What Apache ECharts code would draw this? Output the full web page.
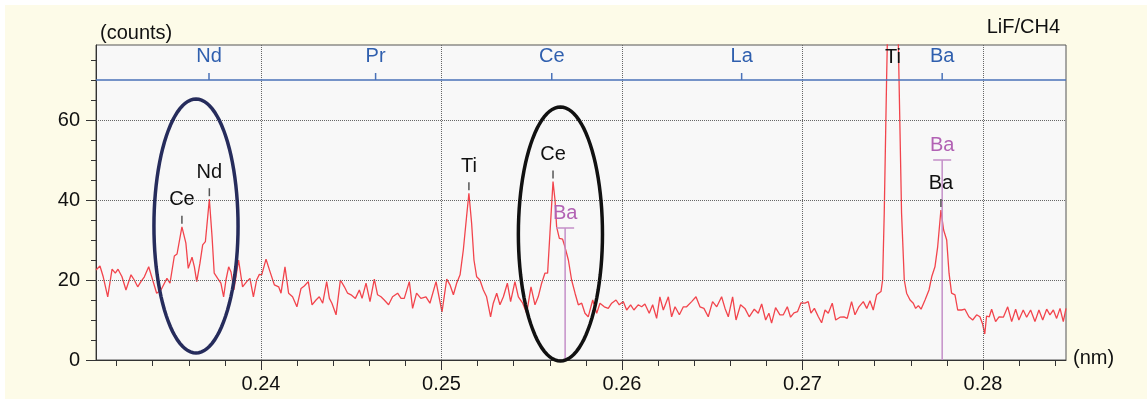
<!DOCTYPE html>
<html>
<head>
<meta charset="utf-8">
<title>LiF/CH4 spectrum</title>
<script src="https://cdn.jsdelivr.net/npm/echarts@6/dist/echarts.min.js"></script>
<style>
  html, body { margin: 0; padding: 0; background: #ffffff; }
  #chart { width: 1147px; height: 399px; }
</style>
</head>
<body>
<div id="chart"></div>
<script>
// wavelength (nm) and counts
var waveNm = [
  0.23086,0.23108,0.23126,0.23151,0.23175,0.23193,0.23208,0.23230,0.23252,0.23280,
  0.23298,0.23317,0.23335,0.23354,0.23378,0.23400,0.23422,0.23446,0.23465,0.23479,
  0.23496,0.23520,0.23535,0.23562,0.23584,0.23597,0.23618,0.23631,0.23644,0.23662,
  0.23677,0.23692,0.23714,0.23729,0.23741,0.23760,0.23778,0.23793,0.23806,0.23821,
  0.23834,0.23850,0.23876,0.23898,0.23921,0.23939,0.23958,0.23976,0.23991,0.24004,
  0.24028,0.24050,0.24074,0.24098,0.24111,0.24133,0.24153,0.24175,0.24199,0.24222,
  0.24240,0.24262,0.24283,0.24305,0.24323,0.24342,0.24364,0.24379,0.24393,0.24416,
  0.24440,0.24462,0.24480,0.24499,0.24523,0.24545,0.24560,0.24582,0.24604,0.24628,
  0.24646,0.24665,0.24683,0.24707,0.24729,0.24757,0.24776,0.24794,0.24822,0.24840,
  0.24862,0.24886,0.24914,
  0.24936,0.24970,0.24988,0.25003,0.25029,0.25047,0.25066,0.25084,0.25103,0.25121,
  0.25139,0.25152,0.25167,0.25180,0.25195,0.25213,0.25232,0.25250,0.25272,0.25287,
  0.25306,0.25324,0.25343,0.25365,0.25383,0.25407,0.25426,0.25450,0.25472,0.25496,
  0.25518,0.25536,0.25555,0.25573,0.25588,0.25601,0.25618,0.25629,0.25638,0.25653,
  0.25671,0.25684,0.25703,0.25721,0.25740,0.25758,0.25777,0.25795,0.25813,0.25838,
  0.25860,0.25878,0.25902,0.25924,0.25943,0.25967,0.25985,0.26007,0.26026,0.26048,
  0.26066,0.26090,0.26109,0.26127,0.26151,0.26170,0.26192,0.26210,0.26229,0.26257,
  0.26275,0.26294,0.26318,0.26340,0.26358,0.26386,0.26410,0.26432,0.26454,0.26478,
  0.26502,0.26525,0.26552,0.26571,0.26589,0.26613,0.26632,0.26657,0.26681,0.26705,
  0.26733,0.26755,0.26774,0.26796,0.26814,0.26829,0.26851,0.26875,0.26894,0.26916,
  0.26934,0.26953,0.26973,0.26992,0.27014,0.27032,0.27047,0.27066,0.27088,0.27106,
  0.27125,0.27143,0.27165,0.27184,0.27208,0.27230,0.27248,0.27272,0.27291,0.27313,
  0.27337,0.27356,0.27374,0.27392,0.27411,0.27435,0.27444,0.27453,0.27466,0.27501,
  0.27535,0.27549,0.27564,0.27577,0.27596,0.27614,0.27627,0.27642,0.27657,0.27679,
  0.27701,0.27716,0.27734,0.27749,0.27767,0.27782,0.27799,0.27812,0.27826,0.27845,
  0.27860,0.27882,0.27900,0.27922,0.27943,0.27965,0.27983,0.27998,0.28010,0.28020,
  0.28035,0.28048,0.28070,0.28089,0.28113,0.28137,0.28159,0.28181,0.28199,0.28223,
  0.28242,0.28264,0.28288,0.28310,0.28331,0.28353,0.28371,0.28390,0.28408,0.28427,
  0.28445,0.28460
];
var counts = [
  22.5,23.5,20.8,15.8,22.7,21.7,22.7,20.8,17.5,21.3,
  20,18.3,19.6,20.8,23.3,20,16.7,17.5,19.2,20.4,
  19.2,26,26.5,33.3,29.2,22.9,25.7,23.3,19.6,24.2,
  28.8,29.6,40.2,30.8,21.7,20.4,19.2,15.8,20,23.3,
  22,17.5,25,18.3,19.6,20.4,15.8,20,21.4,21.3,
  25.2,22.1,18.8,18.3,16.7,23.3,16.7,15.8,13.3,17.9,
  18.5,19.6,13.8,15,15.8,14.2,19.6,15.4,14.2,11.3,
  20,18.3,16.7,16.3,15.4,17.5,15.4,19.2,14.6,20.2,
  16.3,15.8,15,13.8,15.8,16.7,15.4,15.4,19.6,12.9,
  16.7,15.4,15.8,
  14.2,19.6,15.4,12,20.2,18.8,16.3,19.2,21.3,27.5,
  35.8,41.7,34.2,25,20.8,20,17.5,15.8,10.8,14.2,
  16.7,13.8,15.8,19.2,14.6,19.6,15.8,14.2,11.7,18.3,
  13.8,15.8,19.2,21.7,21.7,31.7,44.6,40,33.3,30.4,
  30.2,28.3,25,20,16.7,13.8,14.2,11.7,10.8,15,
  11.7,14.2,13.3,12.9,14.2,15,13.8,14.6,12.5,13.8,
  12.5,13.8,13.3,14,11.7,13.8,10.4,15.8,12.5,15.8,
  10.8,13.3,11.3,13.3,13.3,14.6,15.8,13.3,12.9,10.8,
  14.6,13.3,15.8,12.9,10.8,15.8,10,13.8,12.9,10.8,
  12.7,11.7,14,10,11.7,9.2,13.1,11.3,11.3,13.3,
  10.7,11.8,12.1,14.3,14.2,14.6,11.7,12.9,10.8,9.3,
  12.5,11.7,14.2,10,10.7,10.8,10.4,14.6,11.3,13.3,
  14.6,12.9,14.8,12.5,16.3,17.1,20,36.7,70,150,
  70,36.7,20,16.7,15,14.2,12.9,13.6,12.7,15,
  17.5,20.8,23.3,28.3,37.5,32.5,30,21.7,16.7,16.3,
  12.5,12.5,12.7,10.8,10,11.3,10.8,9,6.5,11,
  10.8,12.7,9.6,10.8,10.7,13.3,9.6,12.7,10,12.5,
  10.7,12.5,9.6,12.5,10,12.7,11.3,12.5,10.4,12.9,
  9.6,12.9
];

// axis ticks
var xMajorTicks = [0.24, 0.25, 0.26, 0.27, 0.28];
var xMinorTicks = [0.232,0.234,0.236,0.238,0.242,0.244,0.246,0.248,0.252,0.254,0.256,0.258,
                   0.262,0.264,0.266,0.268,0.272,0.274,0.276,0.278,0.282,0.284];
var yMajorTicks = [0, 20, 40, 60];
var yMinorTicks = [5, 10, 15, 25, 30, 35, 45, 50, 55, 65, 70, 75];

// element lines along the top strip
var elemNames = ['Nd', 'Pr', 'Ce', 'La', 'Ba'];
var elemNm = [0.23712, 0.24635, 0.25611, 0.26663, 0.27774];
var elemLevel = 70;

// identified peaks
var peakNames = ['Ce', 'Nd', 'Ti', 'Ce', 'Ti', 'Ba'];
var peakNm = [0.23562, 0.23714, 0.25152, 0.25618, 0.27501, 0.27767];
var peakCounts = [33.3, 40.2, 41.7, 44.6, 150, 37.5];

// Ba reference markers (magenta)
var baNm = [0.25685, 0.27774];
var baHeight = [33, 50];

// hand-drawn ellipses: centre nm, centre counts, half width nm, half height counts
var ellipseCx = [0.23640, 0.25659];
var ellipseCy = [33.5, 31.5];
var ellipseRx = [0.00233, 0.00233];
var ellipseRy = [31.75, 31.75];
var ellipseColor = ['#262c5c', '#111111'];

var FONT = '"Liberation Sans", Arial, sans-serif';
var xMin = 0.23086, xMax = 0.2846, yMax = 78.75;

var chart = echarts.init(document.getElementById('chart'));

var spectrum = waveNm.map(function (x, i) { return [x, counts[i]]; });

var gridLines = [];
xMajorTicks.forEach(function (v) { gridLines.push({ xAxis: v }); });
[20, 40, 60].forEach(function (v) { gridLines.push({ yAxis: v }); });
gridLines.push({ yAxis: elemLevel, lineStyle: { type: 'solid', color: '#4a72b8', width: 1.5 } });

chart.setOption({
  animation: false,
  backgroundColor: '#fdfbe8',
  textStyle: { fontFamily: FONT },
  grid: {
    left: 96, right: 81, top: 45, bottom: 39,
    show: true, backgroundColor: '#f8f8f8', borderColor: '#555', borderWidth: 1
  },
  graphic: [
    { type: 'rect', left: 0, top: 0, shape: { width: 1147, height: 5 }, style: { fill: '#fff' } },
    { type: 'rect', left: 0, top: 0, shape: { width: 5, height: 399 }, style: { fill: '#fff' } },
    { type: 'text', x: 100, y: 33, style: { text: '(counts)', fill: '#111', fontSize: 20, fontFamily: FONT, verticalAlign: 'middle' } },
    { type: 'text', x: 1060, y: 27, style: { text: 'LiF/CH4', fill: '#111', fontSize: 20, fontFamily: FONT, align: 'right', verticalAlign: 'middle' } },
    { type: 'text', x: 1073, y: 358, style: { text: '(nm)', fill: '#111', fontSize: 20, fontFamily: FONT, verticalAlign: 'middle' } }
  ],
  xAxis: [
    {
      type: 'value', min: xMin, max: xMax, position: 'bottom',
      axisLine: { onZero: false, lineStyle: { color: '#333', width: 1 } },
      axisTick: { customValues: xMajorTicks, length: 10, lineStyle: { color: '#333' } },
      axisLabel: {
        customValues: xMajorTicks, margin: 14, color: '#111', fontSize: 20, fontFamily: FONT,
        formatter: function (v) { return v.toFixed(2); }
      },
      splitLine: { show: false }
    },
    {
      type: 'value', min: xMin, max: xMax, position: 'bottom',
      axisLine: { show: false, onZero: false },
      axisTick: { customValues: xMinorTicks, length: 6, lineStyle: { color: '#333' } },
      axisLabel: { show: false },
      splitLine: { show: false }
    }
  ],
  yAxis: [
    {
      type: 'value', min: 0, max: yMax, position: 'left',
      axisLine: { show: true, onZero: false, lineStyle: { color: '#333', width: 1 } },
      axisTick: { show: true, customValues: yMajorTicks, length: 10, lineStyle: { color: '#333' } },
      axisLabel: { customValues: yMajorTicks, margin: 16, color: '#111', fontSize: 20, fontFamily: FONT },
      splitLine: { show: false }
    },
    {
      type: 'value', min: 0, max: yMax, position: 'left',
      axisLine: { show: false, onZero: false },
      axisTick: { show: true, customValues: yMinorTicks, length: 5, lineStyle: { color: '#333' } },
      axisLabel: { show: false },
      splitLine: { show: false }
    }
  ],
  series: [
    {
      // grid lines only
      type: 'line', z: 1, silent: true, symbol: 'none',
      data: [[0.24, 0]], lineStyle: { opacity: 0 },
      markLine: {
        silent: true, symbol: 'none', label: { show: false }, animation: false,
        lineStyle: { type: 'dotted', color: '#666', width: 1 },
        data: gridLines
      }
    },
    {
      name: 'LiF/CH4', type: 'line', z: 3, symbol: 'none', clip: true,
      data: spectrum,
      lineStyle: { color: '#f2444c', width: 1.3 }
    },
    {
      // element lines in top strip
      type: 'custom', z: 4, clip: false, silent: true,
      data: elemNm.map(function (x) { return [x, elemLevel]; }),
      renderItem: function (params, api) {
        var p = api.coord([api.value(0), api.value(1)]);
        return {
          type: 'group',
          children: [
            { type: 'line', shape: { x1: p[0], y1: p[1], x2: p[0], y2: p[1] - 7 }, style: { stroke: '#4a72b8', lineWidth: 1.5 } },
            { type: 'text', x: p[0], y: p[1] - 24,
              style: { text: elemNames[params.dataIndex], fill: '#2f5fae', fontSize: 20, fontFamily: FONT, align: 'center', verticalAlign: 'middle' } }
          ]
        };
      }
    },
    {
      // Ba markers
      type: 'custom', z: 4, clip: false, silent: true,
      data: baNm.map(function (x, i) { return [x, baHeight[i]]; }),
      renderItem: function (params, api) {
        var top = api.coord([api.value(0), api.value(1)]);
        var bot = api.coord([api.value(0), 0]);
        return {
          type: 'group',
          children: [
            { type: 'line', shape: { x1: top[0], y1: top[1], x2: bot[0], y2: bot[1] }, style: { stroke: '#c48fc8', lineWidth: 1.5 } },
            { type: 'line', shape: { x1: top[0] - 9, y1: top[1], x2: top[0] + 9, y2: top[1] }, style: { stroke: '#c48fc8', lineWidth: 1.5 } },
            { type: 'text', x: top[0], y: top[1] - 15,
              style: { text: 'Ba', fill: '#b262b4', fontSize: 20, fontFamily: FONT, align: 'center', verticalAlign: 'middle' } }
          ]
        };
      }
    },
    {
      // peak labels
      type: 'custom', z: 5, clip: false, silent: true,
      data: peakNm.map(function (x, i) { return [x, peakCounts[i]]; }),
      renderItem: function (params, api) {
        var p = api.coord([api.value(0), api.value(1)]);
        var gridTop = params.coordSys.y;
        var ty = p[1] - 27;
        var children = [];
        if (ty < gridTop + 12) {
          ty = gridTop + 12;
        } else {
          children.push({ type: 'line', shape: { x1: p[0], y1: p[1] - 11, x2: p[0], y2: p[1] - 3 }, style: { stroke: '#555', lineWidth: 1.5 } });
        }
        children.push({ type: 'text', x: p[0], y: ty,
          style: { text: peakNames[params.dataIndex], fill: '#111', fontSize: 20, fontFamily: FONT, align: 'center', verticalAlign: 'middle' } });
        return { type: 'group', children: children };
      }
    },
    {
      // ellipses
      type: 'custom', z: 6, clip: false, silent: true,
      data: ellipseCx.map(function (x, i) { return [x, ellipseCy[i], ellipseRx[i], ellipseRy[i]]; }),
      renderItem: function (params, api) {
        var c = api.coord([api.value(0), api.value(1)]);
        var s = api.size([api.value(2), api.value(3)]);
        var pts = [];
        for (var k = 0; k < 96; k++) {
          var t = k / 96 * Math.PI * 2;
          pts.push([c[0] + s[0] * Math.cos(t), c[1] + s[1] * Math.sin(t)]);
        }
        return {
          type: 'polygon', shape: { points: pts },
          style: { fill: 'none', stroke: ellipseColor[params.dataIndex], lineWidth: 3.5 }
        };
      }
    }
  ]
});
</script>
</body>
</html>
